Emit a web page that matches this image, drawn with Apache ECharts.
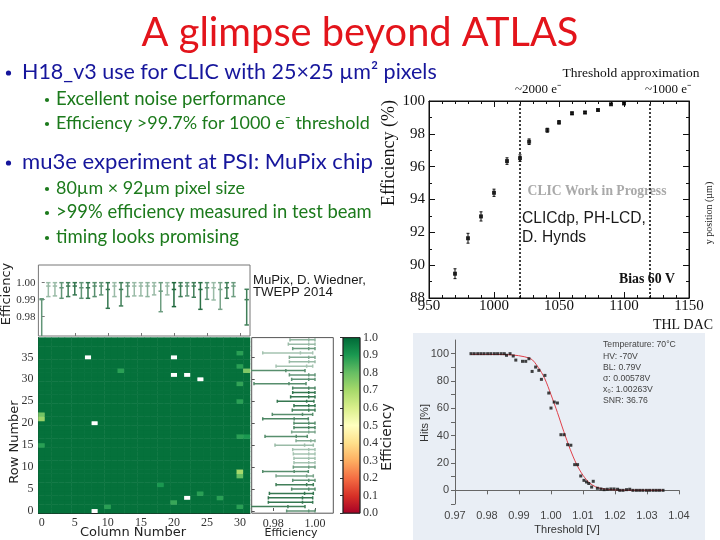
<!DOCTYPE html>
<html><head><meta charset="utf-8">
<script src="https://cdn.jsdelivr.net/npm/echarts@6/dist/echarts.min.js"></script>
<style>html,body{margin:0;padding:0;background:#fff}#c{width:720px;height:540px}</style>
</head><body><div id="c"></div>
<script>
// ---------------- DATA ----------------
const slideTitle = 'A glimpse beyond ATLAS';
const bulletTexts = [
  'H18_v3 use for CLIC with 25×25 µm² pixels',
  'Excellent noise performance',
  'Efficiency >99.7% for 1000 e⁻ threshold',
  'mu3e experiment at PSI: MuPix chip',
  '80µm × 92µm pixel size',
  '>99% efficiency measured in test beam',
  'timing looks promising'
];
const bulletLevels = [1, 2, 2, 1, 2, 2, 2];

// upper right: efficiency vs THL DAC
const thlDac = [970, 980, 990, 1000, 1010, 1020, 1027, 1041, 1050, 1060, 1070, 1080, 1090, 1100];
const effPct = [89.48, 91.64, 92.97, 94.41, 96.34, 96.52, 97.52, 98.22, 98.70, 99.25, 99.30, 99.45, 99.80, 99.85];
const effErr = [0.30, 0.30, 0.28, 0.22, 0.20, 0.20, 0.17, 0.12, 0.10, 0.08, 0.07, 0.06, 0.05, 0.05];
const thrLineX = [1020, 1120];
const thrLabels = ['~2000 e⁻', '~1000 e⁻'];

// lower left: MuPix efficiency map
const colCats = ['0','1','2','3','4','5','6','7','8','9','10','11','12','13','14','15','16','17','18','19','20','21','22','23','24','25','26','27','28','29','30','31'];
const rowCats = ['0','1','2','3','4','5','6','7','8','9','10','11','12','13','14','15','16','17','18','19','20','21','22','23','24','25','26','27','28','29','30','31','32','33','34','35','36','37','38','39'];
const pixelBaseEff = 0.982;
const pixelCells = [[12,32,0.88],[30,36,0.88],[30,33,0.88],[30,29,0.87],[30,25,0.88],[30,17,0.88],[31,17,0.9],[31,32,0.76],
  [0,21,0.72],[0,22,0.78],[0,15,0.88],[30,9,0.70],[30,8,0.80],[18,6,0.90],[24,4,0.88],[27,3,0.88],[20,2,0.86],[10,1,0.88],[30,1,0.88]];
const pixelMissing = [[7,35],[20,35],[20,31],[22,31],[24,30],[8,20],[22,3],[8,0]];

const colLow  = [0.955,0.9918,0.9922,0.9908,0.9918,0.9928,0.9908,0.9908,0.9918,0.9928,0.9849,0.9918,0.9863,0.9918,0.9922,0.9922,0.9918,0.9928,0.9829,0.9928,0.9859,0.9918,0.9922,0.9914,0.9843,0.9902,0.9898,0.9843,0.9908,0.9918,null,0.9751];
const colHigh = [0.9905,1,1,1,1,1,1,1,1,1,1,1,1,1,1,1,1,1,1,1,1,1,1,1,1,1,1,1,1,1,null,0.9961];
const colMean = [0.990,0.998,0.998,0.997,0.998,0.998,0.997,0.997,0.998,0.998,0.996,0.998,0.996,0.998,0.998,0.998,0.998,0.998,0.995,0.998,0.996,0.998,0.998,0.998,0.996,0.997,0.997,0.996,0.997,0.998,null,0.990];
const colWeight = [0.7,0.45,0.45,0.7,0.85,0.9,0.7,0.9,0.75,0.7,0.9,0.45,0.85,0.7,0.45,0.45,0.5,0.45,0.65,0.45,1,0.85,0.7,0.85,0.95,0.7,0.45,0.6,0.85,0.65,null,0.85];

const rowLow  = [0.9864,0.955,0.9776,0.9776,0.9781,0.9888,0.9813,0.9893,0.9813,0.9749,0.9896,0.9899,0.9899,0.9896,0.9893,0.9808,0.9909,0.9760,0.9888,0.9899,0.9899,0.9749,0.9795,0.9891,0.9899,0.9819,0.9883,0.9893,0.9893,0.9707,0.9888,0.9877,0.955,0.9813,0.9877,0.9877,0.9749,0.9893,0.9872,0.9880];
const rowHigh = [1,0.9952,0.9989,0.9989,0.9992,1,0.9992,1,0.9992,0.9968,1,1,1,1,1,0.9992,1,0.9963,1,1,1,0.9968,0.9989,1,1,0.9995,1,1,1,0.9957,1,1,0.9952,0.9989,1,1,0.9989,1,1,1];
const rowMean = [0.997,0.987,0.994,0.994,0.995,0.997,0.996,0.997,0.996,0.990,0.997,0.997,0.997,0.997,0.997,0.995,0.998,0.991,0.997,0.997,0.997,0.990,0.994,0.997,0.997,0.996,0.997,0.997,0.997,0.9875,0.997,0.997,0.986,0.996,0.997,0.997,0.993,0.997,0.997,0.997];
const rowWeight = [0.7,0.85,0.9,0.9,0.9,0.75,0.85,0.7,0.6,0.75,0.65,0.4,0.4,0.4,0.4,0.45,0.55,0.75,0.6,0.8,0.75,0.8,0.75,0.85,0.9,0.9,0.9,0.9,0.8,0.75,0.7,0.7,0.75,0.4,0.45,0.55,0.4,0.65,0.45,0.5];
const margEffTicks = [0.98, 0.99, 1.00];
const rowEffTicks = [0.98, 1.00];

// lower right: S-curve
const scurveV = [0.9750,0.9760,0.9771,0.9781,0.9791,0.9802,0.9812,0.9823,0.9833,0.9844,0.9854,0.9861,0.9872,0.9882,0.9890,
  0.9911,0.9921,0.9931,0.9941,0.9952,0.9962,0.9970,0.9981,0.9993,1.0000,1.0010,1.0020,1.0031,1.0041,
  1.0052,1.0062,1.0074,1.0083,1.0093,1.0103,1.0111,1.0118,1.0127,1.0132,
  1.0145,1.0156,1.0166,1.0176,1.0187,1.0197,1.0208,1.0215,1.0225,1.0236,1.0246,1.0256,
  1.0267,1.0277,1.0287,1.0298,1.0308,1.0319,1.0329,1.0339,1.0350];
const scurveHits = [100,100,100,100,100,100,100,100,100,100,100,98.8,100,98.3,95.3,
  94.4,94.4,96.3,87.0,90.2,87.8,81.2,84.1,71.2,60.2,64.6,63.9,40.7,40.7,
  33.4,33.0,18.8,18.8,10.5,7.3,6.1,5.0,2.4,6.6,
  1.5,1.0,0.5,0.8,1.0,1.0,0.8,0,0,0.5,0.8,0,
  0,0,0,0,0,0,0,0,0];
const fitV    = [0.9750,0.9860,0.9935,0.9960,0.9980,1.0000,1.0020,1.0040,1.0060,1.0080,1.0100,1.0120,1.0140,1.0160,1.0180,1.0220,1.0350];
const fitHits = [99.5,99.3,96.5,90,82,70,57,43,30,19,11,5.5,2.5,1.2,0.6,0.2,0.1];
const hitsTicks = [0, 20, 40, 60, 80, 100];
const hitsMinorTicks = [-10,0,10,20,30,40,50,60,70,80,90,100];
const scurveInfo = ['Temperature: 70°C','HV: -70V','BL: 0.79V','σ: 0.00578V','x₀: 1.00263V','SNR: 36.76'];

// ---------------- STYLE HELPERS ----------------
const RdYlGn = ['#a50026','#d73027','#f46d43','#fdae61','#fee08b','#ffffbf','#d9ef8b','#a6d96a','#66bd63','#1a9850','#006837'];
const SERIF = 'Liberation Serif';
const SANS = 'Liberation Sans';
const SLIDE = 'Lato';
const BLUE = '#16169c', GREEN = '#1c7a1c', RED = '#e3141b';

function mixGreen(w) {
  const d = [31, 104, 60], wh = [255, 255, 255];
  const c = d.map((v, i) => Math.round(w * v + (1 - w) * wh[i]));
  return 'rgb(' + c.join(',') + ')';
}
const mctx = document.createElement('canvas').getContext('2d');
function fitSize(text, family, weight, target) {
  mctx.font = weight + ' 100px "' + family + '"';
  return 100 * target / mctx.measureText(text).width;
}

// ---------------- BUILD ----------------
const heatData = [];
for (let c = 0; c < colCats.length; c++) for (let r = 0; r < rowCats.length; r++) {
  heatData.push([c, r, pixelBaseEff]);
}
const setCell = (c, r, v) => { heatData[c * rowCats.length + r][2] = v; };
pixelCells.forEach(p => setCell(p[0], p[1], p[2]));
pixelMissing.forEach(p => setCell(p[0], p[1], '-'));

const colData = [];
colCats.forEach((c, i) => { if (colLow[i] != null) colData.push([i, colLow[i], colHigh[i], colMean[i], colWeight[i]]); });
const rowData = rowCats.map((r, i) => [i, rowLow[i], rowHigh[i], rowMean[i], rowWeight[i]]);

function seg(a, b, style) { return {type: 'line', shape: {x1: a[0], y1: a[1], x2: b[0], y2: b[1]}, style: style}; }

function vErrRender(params, api) {
  const x = api.value(0);
  const lo = api.coord([x, api.value(1)]), hi = api.coord([x, api.value(2)]), mu = api.coord([x, api.value(3)]);
  const st = {stroke: mixGreen(api.value(4)), lineWidth: 1.5};
  const k = 2.2;
  return {type: 'group', children: [
    seg(lo, hi, st), seg([hi[0]-k, hi[1]], [hi[0]+k, hi[1]], st), seg([lo[0]-k, lo[1]], [lo[0]+k, lo[1]], st),
    seg([mu[0]-k, mu[1]], [mu[0]+k, mu[1]], st)
  ]};
}
function hErrRender(params, api) {
  const y = api.value(0);
  const lo = api.coord([api.value(1), y]), hi = api.coord([api.value(2), y]), mu = api.coord([api.value(3), y]);
  const st = {stroke: mixGreen(api.value(4)), lineWidth: 1.5};
  const k = 1.6;
  return {type: 'group', children: [
    seg(lo, hi, st), seg([hi[0], hi[1]-k], [hi[0], hi[1]+k], st), seg([lo[0], lo[1]-k], [lo[0], lo[1]+k], st),
    seg([mu[0], mu[1]-k], [mu[0], mu[1]+k], st)
  ]};
}
function effErrRender(params, api) {
  const x = api.value(0);
  const lo = api.coord([x, api.value(1)]), hi = api.coord([x, api.value(2)]);
  const st = {stroke: '#111', lineWidth: 1};
  return {type: 'group', children: [seg(lo, hi, st), seg([hi[0]-1.5, hi[1]], [hi[0]+1.5, hi[1]], st), seg([lo[0]-1.5, lo[1]], [lo[0]+1.5, lo[1]], st)]};
}
function colorbarRender(params, api) {
  const p0 = api.coord([0, 0]), p1 = api.coord([1, 1]);
  const stops = RdYlGn.map((c, i) => ({offset: i / (RdYlGn.length - 1), color: c}));
  return {type: 'rect', shape: {x: p0[0], y: p1[1], width: p1[0] - p0[0], height: p0[1] - p1[1]},
    style: {fill: new echarts.graphic.LinearGradient(0, 1, 0, 0, stops), stroke: '#222', lineWidth: 0.8}};
}

const serifLbl = (sz) => ({fontFamily: SERIF, fontSize: sz, color: '#111'});
const mplLbl = (sz) => ({fontFamily: SERIF, fontSize: sz, color: '#333'});

// ---------------- GRAPHICS (text) ----------------
const graphics = [];
graphics.push({type: 'rect', z: -10, shape: {x: 413, y: 333, width: 292, height: 207}, style: {fill: '#e9eef5'}});
const tSize = fitSize(slideTitle, SLIDE, 'normal', 437);
graphics.push({type: 'text', x: 360, y: 33, style: {text: slideTitle, fontFamily: SLIDE, fontSize: tSize, fill: RED, textAlign: 'center', textVerticalAlign: 'middle'}});
const bulletY = [72, 99, 123, 162, 188, 212, 237];
const bulletW = [415, 230, 314, 351, 189, 316, 183];
bulletTexts.forEach((t, i) => {
  const lvl = bulletLevels[i];
  const sz = fitSize(t, SLIDE, 'normal', bulletW[i]);
  const col = lvl === 1 ? BLUE : GREEN;
  graphics.push({type: 'text', x: lvl === 1 ? 22 : 56, y: bulletY[i], style: {text: t, fontFamily: SLIDE, fontSize: sz, fill: col, textAlign: 'left', textVerticalAlign: 'middle'}});
  graphics.push({type: 'circle', shape: {cx: lvl === 1 ? 8.5 : 47, cy: bulletY[i] + 1, r: lvl === 1 ? 2.6 : 2.1}, style: {fill: col}});
});
// upper-right annotations
graphics.push({type: 'text', x: 631, y: 73, style: {text: 'Threshold approximation', fontFamily: SERIF, fontSize: fitSize('Threshold approximation', SERIF, 'normal', 137), fill: '#111', textAlign: 'center', textVerticalAlign: 'middle'}});
graphics.push({type: 'text', x: 389, y: 153, rotation: Math.PI / 2, style: {text: 'Efficiency (%)', fontFamily: SERIF, fontSize: 18, fill: '#111', textAlign: 'center', textVerticalAlign: 'middle'}});
graphics.push({type: 'text', x: 713, y: 325, style: {text: 'THL DAC', fontFamily: SERIF, fontSize: fitSize('THL DAC', SERIF, 'normal', 60), fill: '#111', textAlign: 'right', textVerticalAlign: 'middle'}});
graphics.push({type: 'text', x: 597, y: 191, style: {text: 'CLIC Work in Progress', fontFamily: SERIF, fontWeight: 'bold', fontSize: fitSize('CLIC Work in Progress', SERIF, 'bold', 139), fill: '#a9a9a9', textAlign: 'center', textVerticalAlign: 'middle'}});
const clicSz = fitSize('CLICdp, PH-LCD,', SANS, 'normal', 124);
graphics.push({type: 'text', x: 522, y: 219, style: {text: 'CLICdp, PH-LCD,', fontFamily: SANS, fontSize: clicSz, fill: '#1a1a1a', textAlign: 'left', textVerticalAlign: 'middle'}});
graphics.push({type: 'text', x: 522, y: 238, style: {text: 'D. Hynds', fontFamily: SANS, fontSize: clicSz, fill: '#1a1a1a', textAlign: 'left', textVerticalAlign: 'middle'}});
graphics.push({type: 'text', x: 675, y: 279, style: {text: 'Bias 60 V', fontFamily: SERIF, fontWeight: 'bold', fontSize: fitSize('Bias 60 V', SERIF, 'bold', 56), fill: '#111', textAlign: 'right', textVerticalAlign: 'middle'}});
graphics.push({type: 'text', x: 709, y: 213, rotation: Math.PI / 2, style: {text: 'y position (µm)', fontFamily: SERIF, fontSize: 10, fill: '#222', textAlign: 'center', textVerticalAlign: 'middle'}});
// lower-left annotations
graphics.push({type: 'text', x: 7, y: 294, rotation: Math.PI / 2, style: {text: 'Efficiency', fontFamily: 'DejaVu Sans', fontSize: 13, fill: '#222', textAlign: 'center', textVerticalAlign: 'middle'}});
graphics.push({type: 'text', x: 15, y: 442, rotation: Math.PI / 2, style: {text: 'Row Number', fontFamily: 'DejaVu Sans', fontSize: 13, fill: '#222', textAlign: 'center', textVerticalAlign: 'middle'}});
graphics.push({type: 'text', x: 133, y: 533, style: {text: 'Column Number', fontFamily: 'DejaVu Sans', fontSize: 13, fill: '#222', textAlign: 'center', textVerticalAlign: 'middle'}});
graphics.push({type: 'text', x: 291, y: 533, style: {text: 'Efficiency', fontFamily: 'DejaVu Sans', fontSize: 11, fill: '#222', textAlign: 'center', textVerticalAlign: 'middle'}});
graphics.push({type: 'text', x: 387, y: 437, rotation: Math.PI / 2, style: {text: 'Efficiency', fontFamily: 'DejaVu Sans', fontSize: 14, fill: '#222', textAlign: 'center', textVerticalAlign: 'middle'}});
const muSz = fitSize('MuPix, D. Wiedner,', SANS, 'normal', 113);
graphics.push({type: 'text', x: 253, y: 280, style: {text: 'MuPix, D. Wiedner,', fontFamily: SANS, fontSize: muSz, fill: '#1a1a1a', textAlign: 'left', textVerticalAlign: 'middle'}});
graphics.push({type: 'text', x: 253, y: 292, style: {text: 'TWEPP 2014', fontFamily: SANS, fontSize: muSz, fill: '#1a1a1a', textAlign: 'left', textVerticalAlign: 'middle'}});
// lower-right annotations
graphics.push({type: 'text', x: 425, y: 423, rotation: Math.PI / 2, style: {text: 'Hits [%]', fontFamily: SANS, fontSize: 11, fill: '#333', textAlign: 'center', textVerticalAlign: 'middle'}});
graphics.push({type: 'text', x: 567, y: 530, style: {text: 'Threshold [V]', fontFamily: SANS, fontSize: 11, fill: '#333', textAlign: 'center', textVerticalAlign: 'middle'}});
const infoSz = fitSize(scurveInfo[0], SANS, 'normal', 73);
scurveInfo.forEach((t, i) => {
  graphics.push({type: 'text', x: 603, y: 345 + i * 11.2, style: {text: t, fontFamily: SANS, fontSize: infoSz, fill: '#444', textAlign: 'left', textVerticalAlign: 'middle'}});
});

// ---------------- OPTION ----------------
const gridNoBounds = {outerBoundsMode: 'none', containLabel: false};
const plain = v => String(Math.round(v * 1000) / 1000);
const option = {
  backgroundColor: '#fff',
  animation: false,
  grid: [
    Object.assign({left: 429, top: 101, width: 260, height: 197, show: true, borderColor: '#111', borderWidth: 1, backgroundColor: 'transparent'}, gridNoBounds),
    Object.assign({left: 38.4, top: 265, width: 211.6, height: 71, show: true, borderColor: '#777', borderWidth: 1, backgroundColor: '#fff'}, gridNoBounds),
    Object.assign({left: 38.4, top: 337.6, width: 211.6, height: 175.6}, gridNoBounds),
    Object.assign({left: 251.7, top: 337.6, width: 81.6, height: 175.6, show: true, borderColor: '#555', borderWidth: 1, backgroundColor: '#fff'}, gridNoBounds),
    Object.assign({left: 343, top: 337.6, width: 17, height: 175.6}, gridNoBounds),
    Object.assign({left: 455, top: 340, width: 224, height: 164}, gridNoBounds)
  ],
  xAxis: [
    {gridIndex: 0, type: 'value', min: 950, max: 1150, interval: 50, axisLine: {lineStyle: {color: '#111'}},
      axisTick: {inside: true, length: 6, lineStyle: {color: '#111'}}, minorTick: {show: true, splitNumber: 5, length: 3, lineStyle: {color: '#111'}},
      axisLabel: Object.assign({margin: 1, formatter: plain}, serifLbl(15)), splitLine: {show: false}},
    {gridIndex: 0, type: 'value', position: 'top', min: 950, max: 1150, interval: 50, axisLine: {lineStyle: {color: '#111'}},
      axisTick: {inside: true, length: 6, lineStyle: {color: '#111'}}, minorTick: {show: true, splitNumber: 5, length: 3, lineStyle: {color: '#111'}},
      axisLabel: {show: false}, splitLine: {show: false}},
    {gridIndex: 1, type: 'value', min: -0.5, max: 31.5, axisLine: {show: false},
      axisTick: {inside: true, length: 3, customValues: [0,5,10,15,20,25,30], lineStyle: {color: '#777'}}, axisLabel: {show: false}, splitLine: {show: false}},
    {gridIndex: 2, type: 'category', data: colCats, axisLine: {lineStyle: {color: '#222'}},
      axisTick: {interval: 4, alignWithLabel: true, length: 3, lineStyle: {color: '#333'}},
      axisLabel: Object.assign({interval: 4, margin: 4}, mplLbl(12)), splitLine: {show: false}},
    {gridIndex: 3, type: 'value', min: 0.9696, max: 1.0088, axisLine: {show: false},
      axisTick: {inside: true, length: 3, customValues: rowEffTicks, lineStyle: {color: '#555'}},
      axisLabel: Object.assign({customValues: rowEffTicks, margin: 5, formatter: v => v.toFixed(2)}, mplLbl(12)), splitLine: {show: false}},
    {gridIndex: 4, type: 'value', min: 0, max: 1, show: false},
    {gridIndex: 5, type: 'value', min: 0.97, max: 1.04, interval: 0.01, axisLine: {lineStyle: {color: '#666'}},
      axisTick: {length: 4, lineStyle: {color: '#666'}},
      axisLabel: {fontFamily: SANS, fontSize: 11, color: '#444', margin: 6, formatter: v => v.toFixed(2)}, splitLine: {show: false}}
  ],
  yAxis: [
    {gridIndex: 0, type: 'value', min: 88, max: 100, interval: 2, axisLine: {lineStyle: {color: '#111'}},
      axisTick: {inside: true, length: 6, lineStyle: {color: '#111'}}, minorTick: {show: true, splitNumber: 2, length: 3, lineStyle: {color: '#111'}},
      axisLabel: Object.assign({margin: 4, formatter: plain}, serifLbl(15)), splitLine: {show: false}},
    {gridIndex: 0, type: 'value', position: 'right', min: 88, max: 100, interval: 2, axisLine: {lineStyle: {color: '#111'}},
      axisTick: {inside: true, length: 6, lineStyle: {color: '#111'}}, minorTick: {show: true, splitNumber: 2, length: 3, lineStyle: {color: '#111'}},
      axisLabel: {show: false}, splitLine: {show: false}},
    {gridIndex: 1, type: 'value', min: 0.9686, max: 1.0104, axisLine: {show: false},
      axisTick: {inside: true, length: 3, customValues: margEffTicks, lineStyle: {color: '#777'}},
      axisLabel: Object.assign({customValues: margEffTicks, margin: 3, formatter: v => v.toFixed(2)}, mplLbl(11)), splitLine: {show: false}},
    {gridIndex: 2, type: 'category', data: rowCats, axisLine: {lineStyle: {color: '#222'}},
      axisTick: {interval: 4, alignWithLabel: true, length: 3, lineStyle: {color: '#333'}},
      axisLabel: Object.assign({interval: 4, margin: 5}, mplLbl(12)), splitLine: {show: false}},
    {gridIndex: 3, type: 'value', min: -0.5, max: 39.5, axisLine: {show: false},
      axisTick: {inside: true, length: 3, customValues: [0,5,10,15,20,25,30,35], lineStyle: {color: '#555'}}, axisLabel: {show: false}, splitLine: {show: false}},
    {gridIndex: 4, type: 'value', min: 0, max: 1, interval: 0.1, position: 'right', axisLine: {show: false},
      axisTick: {inside: true, length: 3, lineStyle: {color: '#333'}},
      axisLabel: Object.assign({margin: 3, formatter: v => v.toFixed(1)}, mplLbl(12)), splitLine: {show: false}},
    {gridIndex: 5, type: 'value', min: -10, max: 110, axisLine: {show: true, lineStyle: {color: '#666'}},
      axisTick: {show: true, length: 4, customValues: hitsMinorTicks, lineStyle: {color: '#666'}},
      axisLabel: {customValues: hitsTicks, fontFamily: SANS, fontSize: 11, color: '#444', margin: 6}, splitLine: {show: false}}
  ],
  visualMap: [{type: 'continuous', min: 0, max: 1, show: false, seriesIndex: 3, inRange: {color: RdYlGn}}],
  series: [
    {type: 'custom', xAxisIndex: 0, yAxisIndex: 0, renderItem: effErrRender, silent: true, z: 3,
      data: thlDac.map((x, i) => [x, effPct[i] - effErr[i], effPct[i] + effErr[i]])},
    {type: 'scatter', xAxisIndex: 0, yAxisIndex: 0, symbol: 'rect', symbolSize: 4, itemStyle: {color: '#000'}, z: 4,
      data: thlDac.map((x, i) => [x, effPct[i]]),
      markLine: {silent: true, symbol: 'none', label: {show: false},
        lineStyle: {color: '#111', type: [2, 2], width: 1.6}, data: thrLineX.map(x => ({xAxis: x}))}},
    {type: 'custom', xAxisIndex: 2, yAxisIndex: 2, renderItem: vErrRender, clip: true, silent: true, data: colData},
    {type: 'heatmap', xAxisIndex: 3, yAxisIndex: 3, data: heatData, silent: true, progressive: 0, itemStyle: {borderWidth: 0}},
    {type: 'custom', xAxisIndex: 4, yAxisIndex: 4, renderItem: hErrRender, clip: true, silent: true, data: rowData},
    {type: 'custom', xAxisIndex: 5, yAxisIndex: 5, renderItem: colorbarRender, silent: true, data: [[0, 0]]},
    {type: 'scatter', xAxisIndex: 6, yAxisIndex: 6, symbol: 'rect', symbolSize: 3, itemStyle: {color: '#111'}, z: 4,
      data: scurveV.map((v, i) => [v, scurveHits[i]])},
    {type: 'line', xAxisIndex: 6, yAxisIndex: 6, showSymbol: false, smooth: 0.3, lineStyle: {color: '#e0404a', width: 1}, z: 3,
      data: fitV.map((v, i) => [v, fitHits[i]])}
  ],
  graphic: graphics
};

const chart = echarts.init(document.getElementById('c'), null, {renderer: 'canvas'});
chart.setOption(option);
// threshold labels above the dashed lines (positions from the axis scale)
const extra = thrLineX.map((x, i) => {
  const px = chart.convertToPixel({xAxisIndex: 0}, x);
  return {type: 'text', x: px - 5, y: 90, style: {text: thrLabels[i], fontFamily: SERIF, fontSize: 13, fill: '#111', textAlign: 'left', textVerticalAlign: 'middle'}};
});
chart.setOption({graphic: graphics.concat(extra)});
</script></body></html>
